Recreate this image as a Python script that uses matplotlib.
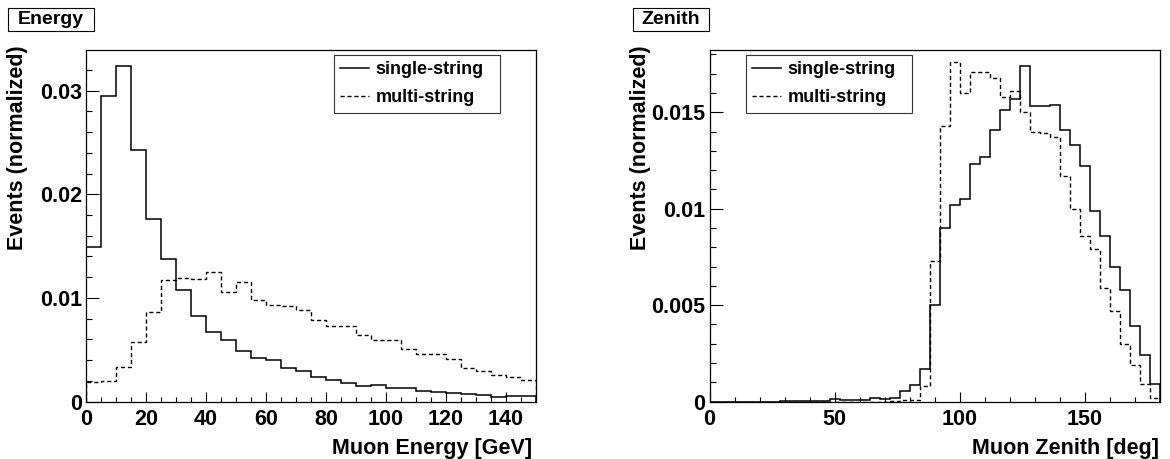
import numpy as np
import matplotlib
matplotlib.use("Agg")
import matplotlib.pyplot as plt
from matplotlib.ticker import MultipleLocator, FuncFormatter
from matplotlib.patches import Rectangle

# ---------------- data ----------------
energy_range = (0, 150)          # GeV, 5 GeV bins
energy_single = [0.0149, 0.0295, 0.0324, 0.0243, 0.0176, 0.0138, 0.0108, 0.0083,
                 0.0067, 0.0059, 0.0049, 0.0042, 0.0040, 0.0032, 0.0029, 0.0024,
                 0.0021, 0.0018, 0.0015, 0.0016, 0.0013, 0.0013, 0.0010, 0.0009,
                 0.0008, 0.0007, 0.0006, 0.0004, 0.0005, 0.0005]
energy_multi = [0.0019, 0.0020, 0.0033, 0.0057, 0.0086, 0.0117, 0.0119, 0.0118,
                0.0125, 0.0106, 0.0115, 0.0098, 0.0093, 0.0092, 0.0088, 0.0079,
                0.0073, 0.0073, 0.0064, 0.0059, 0.0059, 0.0051, 0.0046, 0.0046,
                0.0041, 0.0032, 0.0029, 0.0026, 0.0024, 0.0021]

zenith_range = (0, 180)          # deg, 4 deg bins
zenith_single = [0, 0, 0, 0, 0, 0, 0, 0.00003, 0.00003, 0.00003, 0.00003, 0.00005,
                 0.00012, 0.00006, 0.00006, 0.00006, 0.00018, 0.00012, 0.00020,
                 0.00052, 0.00083, 0.0017, 0.0050, 0.0090, 0.0102, 0.0105, 0.0123,
                 0.0127, 0.0141, 0.0151, 0.0157, 0.0174, 0.0153, 0.0153, 0.0154,
                 0.0141, 0.0133, 0.0122, 0.0099, 0.0086, 0.0070, 0.0058, 0.0039,
                 0.0024, 0.0009]
zenith_multi = [0, 0, 0, 0, 0, 0, 0, 0, 0, 0, 0, 0, 0, 0, 0, 0, 0, 0,
                0.00005, 0.00008, 0.0001, 0.0008, 0.0073, 0.0143, 0.0176, 0.0160,
                0.0171, 0.0171, 0.0168, 0.0158, 0.0161, 0.0150, 0.0140, 0.0139,
                0.0137, 0.0117, 0.0100, 0.0086, 0.0079, 0.0059, 0.0047, 0.0030,
                0.0019, 0.0009, 0.0002]

series_labels = ["single-string", "multi-string"]
panel_titles = ["Energy", "Zenith"]
x_titles = ["Muon Energy [GeV]", "Muon Zenith [deg]"]
y_title = "Events (normalized)"

# ---------------- style ----------------
plt.rcParams["font.family"] = ["Liberation Sans", "DejaVu Sans"]
plt.rcParams["font.weight"] = "bold"

W, H = 1170, 459
fig = plt.figure(figsize=(W / 100, H / 100), dpi=100)
fig.patch.set_facecolor("white")


def px_ax(x0, y_top, x1, y_bot):
    return fig.add_axes([x0 / W, 1 - y_bot / H, (x1 - x0) / W, (y_bot - y_top) / H])


ax1 = px_ax(86, 50, 536, 401.5)
ax2 = px_ax(709.5, 50, 1159.5, 401.5)

fmt = FuncFormatter(lambda v, p: f"{v:g}")

panels = [
    (ax1, energy_range, energy_single, energy_multi, 0.03393, 20, 5, 0.01, 0.002),
    (ax2, zenith_range, zenith_single, zenith_multi, 0.01823, 50, 10, 0.005, 0.001),
]

for i, (ax, rng, s_vals, m_vals, ymax, xmaj, xmin, ymaj, ymin) in enumerate(panels):
    edges = np.linspace(rng[0], rng[1], len(s_vals) + 1)
    h1 = ax.stairs(s_vals, edges, color="black", linewidth=1.1, label=series_labels[0])
    h2 = ax.stairs(m_vals, edges, color="black", linewidth=1.0,
                   linestyle=(0, (3, 2)), label=series_labels[1])
    ax.set_xlim(*rng)
    ax.set_ylim(0, ymax)
    ax.xaxis.set_major_locator(MultipleLocator(xmaj))
    ax.xaxis.set_minor_locator(MultipleLocator(xmin))
    ax.yaxis.set_major_locator(MultipleLocator(ymaj))
    ax.yaxis.set_minor_locator(MultipleLocator(ymin))
    ax.xaxis.set_major_formatter(fmt)
    ax.yaxis.set_major_formatter(fmt)
    ax.tick_params(axis="both", which="both", direction="in", top=False, right=False,
                   labelsize=15.5, width=0.8, colors="black")
    ax.tick_params(axis="y", which="major", length=9, pad=3)
    ax.tick_params(axis="y", which="minor", length=4.5)
    ax.tick_params(axis="x", which="major", length=7.5, pad=5.5)
    ax.tick_params(axis="x", which="minor", length=3.7)
    for lab in ax.get_xticklabels() + ax.get_yticklabels():
        lab.set_fontweight("bold")
    for sp in ax.spines.values():
        sp.set_linewidth(0.9)

    ax.set_xlabel(x_titles[i], fontsize=15.5, fontweight="bold", loc="right")
    ax.xaxis.set_label_coords(0.991 if i == 0 else 1.0, -0.134)
    ax.xaxis.label.set_va("center")
    ax.set_ylabel(y_title, fontsize=15.5, fontweight="bold", loc="top")
    ax.yaxis.set_label_coords(-0.153, 1.014)
    ax.yaxis.label.set_va("center")

    lx0 = 0.551 if i == 0 else 0.081
    leg = ax.legend(handles=[h1, h2], loc="upper left",
                    bbox_to_anchor=(lx0, 0.801, 0.369, 0.185), mode="expand",
                    prop={"weight": "bold", "size": 13},
                    frameon=True, fancybox=False, shadow=False, borderpad=0.35,
                    labelspacing=0.62, handlelength=1.6, handletextpad=0.35,
                    borderaxespad=0)
    leg.get_frame().set_edgecolor("black")
    leg.get_frame().set_linewidth(0.8)

# title boxes
for (bx0, bx1), title in zip([(8, 94), (633, 709)], panel_titles):
    fig.patches.append(Rectangle((bx0 / W, 1 - 31 / H), (bx1 - bx0) / W, 23 / H,
                                 transform=fig.transFigure, facecolor="white",
                                 edgecolor="black", linewidth=0.8))
    fig.text((bx0 + bx1) / 2 / W, 1 - 19.5 / H, title, ha="center", va="center",
             fontsize=14, fontweight="bold")

fig.savefig("out.png", dpi=100)
